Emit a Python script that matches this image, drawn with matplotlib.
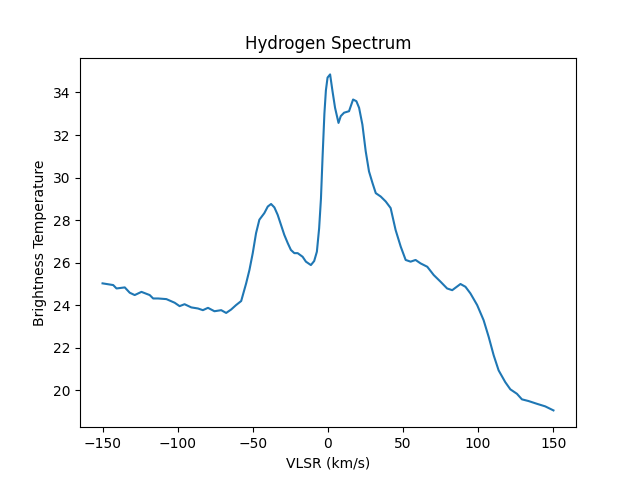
import matplotlib
matplotlib.use("Agg")
import matplotlib.pyplot as plt

velocity = [-150, -142.9, -140.7, -135.2, -131.9, -128.6, -124.1, -118.6, -116.3, -113.0,
            -107.5, -102.0, -98.7, -95.4, -90.9, -86.5, -83.2, -79.8, -75.5, -71.0,
            -67.7, -64.4, -61.1, -57.7, -54.4, -52.2, -50.0, -47.8, -45.6, -42.3,
            -40.0, -37.8, -35.6, -33.4, -31.2, -29.0, -26.7, -24.6, -22.3, -20.1,
            -16.8, -14.6, -11.3, -9.1, -7.3, -5.8, -4.6, -3.5, -2.3, -1.3,
            -0.2, 1.5, 3.1, 4.8, 7.1, 8.6, 10.8, 14.1, 16.8, 19.0,
            20.8, 23.0, 25.2, 27.4, 29.7, 31.9, 35.2, 38.5, 41.8, 45.1,
            48.5, 51.8, 55.1, 58.4, 61.7, 66.2, 70.5, 75.0, 79.4, 82.8,
            88.3, 91.6, 94.9, 99.4, 103.7, 107.1, 110.4, 113.7, 118.1, 121.5,
            125.9, 129.2, 133.6, 139.2, 144.7, 150.2]
temperature = [25.03, 24.95, 24.79, 24.84, 24.59, 24.48, 24.63, 24.48, 24.32, 24.32,
               24.29, 24.12, 23.96, 24.05, 23.90, 23.85, 23.77, 23.88, 23.72, 23.77,
               23.64, 23.80, 24.01, 24.20, 25.03, 25.66, 26.45, 27.39, 28.02, 28.33,
               28.64, 28.76, 28.60, 28.25, 27.78, 27.31, 26.92, 26.60, 26.45, 26.45,
               26.28, 26.05, 25.89, 26.08, 26.52, 27.62, 29.00, 31.00, 33.00, 34.10,
               34.70, 34.85, 34.06, 33.28, 32.57, 32.89, 33.05, 33.12, 33.67, 33.59,
               33.28, 32.49, 31.24, 30.29, 29.75, 29.27, 29.11, 28.88, 28.57, 27.54,
               26.76, 26.13, 26.05, 26.13, 25.97, 25.81, 25.42, 25.11, 24.79, 24.71,
               25.00, 24.87, 24.56, 24.01, 23.30, 22.51, 21.65, 20.94, 20.39, 20.05,
               19.84, 19.58, 19.50, 19.37, 19.25, 19.06]

fig, ax = plt.subplots(figsize=(6.4, 4.8), dpi=100)
ax.plot(velocity, temperature)
ax.set_title("Hydrogen Spectrum")
ax.set_xlabel("VLSR (km/s)")
ax.set_ylabel("Brightness Temperature")
fig.savefig("out.png")
